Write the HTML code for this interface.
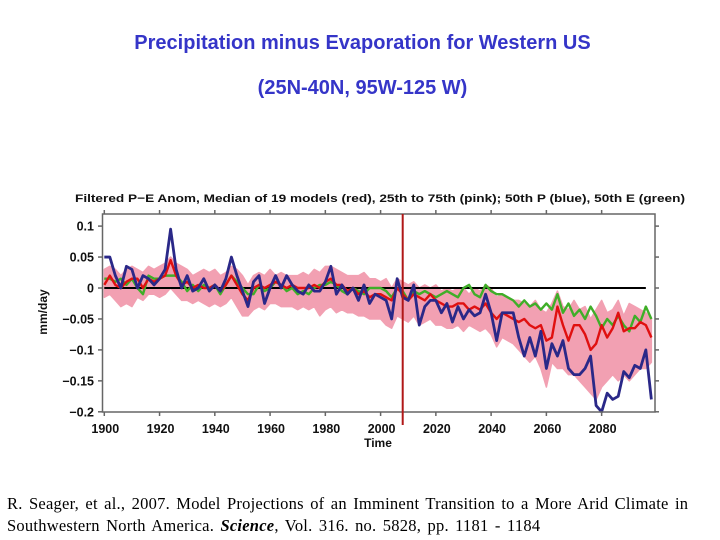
<!DOCTYPE html>
<html><head><meta charset="utf-8"><style>
body{margin:0;background:#fff;width:720px;height:540px;overflow:hidden;position:relative;font-family:"Liberation Sans",sans-serif}
.t{position:absolute;left:0;width:725px;text-align:center;color:#3535c8;font-weight:bold;font-size:20px}
.cite{position:absolute;left:7px;top:493px;font-family:"Liberation Serif",serif;font-size:16.5px;letter-spacing:0.24px;word-spacing:2px;line-height:22px;color:#000;width:705px}
</style></head><body>
<div class="t" style="top:32px">Precipitation minus Evaporation for Western US</div>
<div class="t" style="top:77px">(25N-40N, 95W-125 W)</div>
<svg id="c" width="720" height="540" style="position:absolute;left:0;top:0"></svg>
<div class="cite">R. Seager, et al., 2007. Model Projections of an Imminent Transition to a More Arid Climate in Southwestern North America. <b><i>Science</i></b>, Vol. 316. no. 5828, pp. 1181 - 1184</div>
<script>
const blueP=[.05,.05,.02,0,.035,.03,0,.02,.015,.005,
.015,.03,.095,.03,0,.02,-.005,0,.015,-.005,
.005,-.005,.015,.05,.02,-.005,-.03,.01,.02,-.025,
0,.02,0,.02,.005,-.005,-.01,.005,-.005,-.005,
.01,.035,-.01,.005,-.01,0,-.02,.005,-.025,-.01,
-.015,-.02,-.05,.015,-.015,-.02,.005,-.06,-.03,-.02,
-.02,-.04,-.025,-.055,-.03,-.05,-.035,-.045,-.04,-.01,
-.04,-.085,-.04,-.04,-.04,-.08,-.11,-.08,-.11,-.07,
-.13,-.09,-.11,-.085,-.13,-.14,-.14,-.13,-.11,-.19,
-.2,-.17,-.18,-.175,-.135,-.145,-.125,-.13,-.1,-.18];
const redMedian=[.005,.02,.005,0,.01,.015,.015,0,.015,.01,
.015,.02,.045,.02,.005,.01,0,.005,0,0,
.005,-.005,.005,.02,.005,-.01,-.02,0,.005,0,
.005,.01,.005,0,.005,0,0,0,.005,0,
.01,.015,.005,.005,-.005,0,-.01,-.005,-.015,-.01,
-.01,-.015,-.02,0,-.01,-.02,-.01,-.015,-.02,-.01,
-.02,-.025,-.03,-.03,-.025,-.025,-.035,-.03,-.035,-.025,
-.04,-.05,-.04,-.045,-.05,-.055,-.05,-.06,-.065,-.06,
-.085,-.08,-.03,-.06,-.085,-.06,-.06,-.075,-.1,-.09,
-.06,-.08,-.065,-.04,-.07,-.065,-.065,-.055,-.06,-.08];
const greenE=[.015,.015,.01,.015,.005,.015,0,-.01,.02,.015,
.015,.02,.02,.02,.01,-.005,.005,-.005,.005,0,
.005,-.01,.005,.02,.01,0,-.01,-.01,.005,-.005,
0,.01,.005,-.005,0,-.01,-.005,-.01,0,.005,
.005,.01,.005,-.005,-.01,0,-.005,-.01,0,0,
0,-.005,-.015,0,-.005,-.02,-.005,-.01,-.005,-.01,
-.015,-.01,-.005,-.01,-.015,0,.005,-.01,-.015,.005,
-.005,-.01,-.01,-.015,-.02,-.03,-.02,-.03,-.025,-.035,
-.025,-.035,-.01,-.04,-.025,-.045,-.035,-.05,-.03,-.045,
-.065,-.05,-.06,-.045,-.06,-.07,-.045,-.055,-.03,-.05];
const upper75=[.03,.035,.03,.02,.03,.035,.03,.025,.035,.03,
.035,.04,.05,.04,.035,.03,.02,.025,.03,.025,
.03,.02,.025,.035,.03,.02,.005,.02,.025,.02,
.03,.02,.025,.02,.02,.02,.025,.02,.03,.025,
.035,.035,.03,.025,.02,.02,.02,.025,.015,.015,
.01,.015,0,.015,.01,.005,.01,0,.005,0,
.005,-.005,0,-.005,0,0,-.01,0,-.005,.005,
0,-.015,-.01,-.015,-.02,-.02,-.025,-.03,-.02,-.035,
-.04,-.025,-.005,-.03,-.035,-.02,-.035,-.03,-.05,-.035,
-.02,-.04,-.035,-.02,-.045,-.025,-.03,-.035,-.04,-.05];
const lower25=[-.015,-.01,-.02,-.03,-.025,-.03,-.015,-.02,-.01,-.01,
-.015,-.01,0,-.01,-.02,-.02,-.025,-.02,-.025,-.03,
-.025,-.03,-.025,-.015,-.03,-.045,-.045,-.035,-.03,-.035,
-.025,-.025,-.03,-.03,-.03,-.035,-.03,-.035,-.03,-.045,
-.035,-.03,-.04,-.035,-.04,-.04,-.045,-.045,-.05,-.05,
-.05,-.06,-.065,-.045,-.05,-.055,-.045,-.06,-.055,-.05,
-.06,-.06,-.065,-.065,-.06,-.07,-.06,-.065,-.07,-.065,
-.075,-.095,-.08,-.085,-.09,-.1,-.11,-.12,-.11,-.13,
-.16,-.12,-.13,-.13,-.14,-.14,-.15,-.16,-.17,-.18,
-.16,-.15,-.14,-.15,-.14,-.15,-.14,-.13,-.13,-.12];
const startYear=1900, yearStep=2;
const xTicks=[1900,1920,1940,1960,1980,2000,2020,2040,2060,2080];
const yTicks=[0.1,0.05,0,-0.05,-0.1,-0.15,-0.2];
const yTickLabels=["0.1","0.05","0","\u22120.05","\u22120.1","\u22120.15","\u22120.2"];
const transitionYear=2008;

const NS="http://www.w3.org/2000/svg";
const svg=document.getElementById('c');
const X=y=>104.3+(y-1900)*2.763;
const Y=v=>288-v*619;
const yr=i=>startYear+i*yearStep;
function mk(t,a,p){const e=document.createElementNS(NS,t);for(const k in a)e.setAttribute(k,a[k]);(p||svg).appendChild(e);return e;}
let h=mk('text',{x:75,y:202,'font-size':'11.3','font-weight':'bold',fill:'#111',textLength:610,lengthAdjust:'spacingAndGlyphs'});


h.textContent='Filtered P\u2212E Anom, Median of 19 models (red), 25th to 75th (pink); 50th P (blue), 50th E (green)';
let bp=upper75.map((v,i)=>X(yr(i))+','+Y(v)).concat(lower25.map((v,i)=>X(yr(i))+','+Y(v)).reverse()).join(' ');
let band=mk('polygon',{points:bp,fill:'#f2a0b2',stroke:'#f2a0b2','stroke-width':1.5,'stroke-linejoin':'round'});


let z=mk('line',{x1:X(1900),x2:X(2096),y1:Y(0),y2:Y(0),stroke:'#000','stroke-width':2});


function line(arr,col,name,w){const p=mk('polyline',{points:arr.map((v,i)=>X(yr(i))+','+Y(v)).join(' '),fill:'none',stroke:col,'stroke-width':w,'stroke-linejoin':'round'});

}
line(greenE,'#3fae28','green-evaporation-line',2.4);
line(redMedian,'#e01010','red-median-line',2.4);
line(blueP,'#2a2888','blue-precipitation-line',2.8);
let fr=mk('rect',{x:102.5,y:214,width:552.5,height:198,fill:'none',stroke:'#666','stroke-width':1.5});


let vl=mk('line',{x1:X(transitionYear),x2:X(transitionYear),y1:214,y2:425,stroke:'#b01818','stroke-width':2});


xTicks.forEach(t=>{
 mk('line',{x1:X(t),x2:X(t),y1:412,y2:416,stroke:'#666','stroke-width':1.5});
 mk('line',{x1:X(t),x2:X(t),y1:214,y2:210,stroke:'#666','stroke-width':1.5});
 const tx=mk('text',{x:X(t)+1,y:433,'font-size':'12.5','font-weight':'bold','text-anchor':'middle',fill:'#111'});
 
 
 tx.textContent=t;
});
yTicks.forEach((t,i)=>{
 mk('line',{x1:102.5,x2:98,y1:Y(t),y2:Y(t),stroke:'#666','stroke-width':1.5});
 mk('line',{x1:655,x2:659,y1:Y(t),y2:Y(t),stroke:'#666','stroke-width':1.5});
 const tx=mk('text',{x:94,y:Y(t)+4.5,'font-size':'12.5','font-weight':'bold','text-anchor':'end',fill:'#111'});
 
 
 tx.textContent=yTickLabels[i];
});
let xt=mk('text',{x:378,y:447,'font-size':'12','font-weight':'bold','text-anchor':'middle',fill:'#111'});


xt.textContent='Time';
let yt=mk('text',{x:47,y:312,'font-size':'12','font-weight':'bold','text-anchor':'middle',fill:'#111',transform:'rotate(-90 47 312)'});


yt.textContent='mm/day';
</script>
</body></html>
